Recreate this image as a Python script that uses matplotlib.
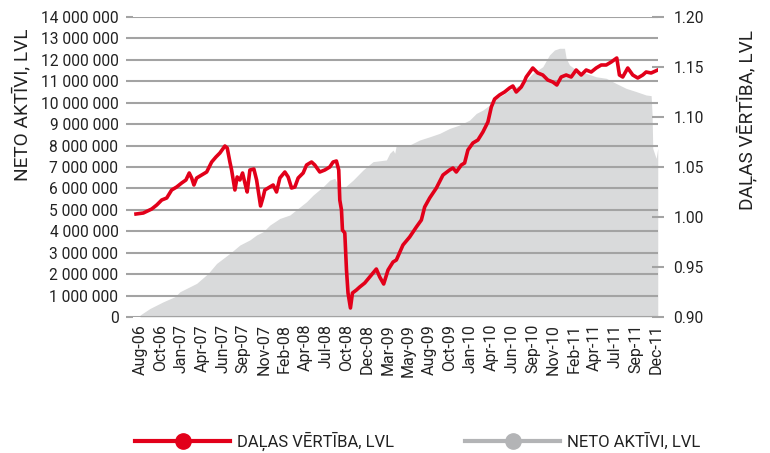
import matplotlib
matplotlib.use("Agg")
import matplotlib.pyplot as plt
from matplotlib.lines import Line2D
from matplotlib.ticker import FuncFormatter
import numpy as np

plt.rcParams['font.family'] = ['Roboto', 'DejaVu Sans']

# x positions are in months since Aug-2006
tick_labels = ["Aug-06", "Oct-06", "Jan-07", "Apr-07", "Jun-07", "Sep-07", "Nov-07",
               "Feb-08", "Apr-08", "Jul-08", "Oct-08", "Dec-08", "Mar-09", "May-09",
               "Aug-09", "Oct-09", "Jan-10", "Apr-10", "Jun-10", "Sep-10", "Nov-10",
               "Feb-11", "Apr-11", "Jul-11", "Sep-11", "Dec-11"]

# Unit value (right axis, LVL)
unit_month = [-0.50, 0.41, 1.45, 2.07, 2.69, 3.31, 3.92, 4.54, 5.16, 5.69, 6.10, 6.40, 6.68,
              7.02, 7.64, 8.26, 8.88, 9.41, 9.90, 10.52, 10.81, 11.14, 11.35, 11.76, 12.04,
              12.38, 12.71, 13.00, 13.28, 13.62, 14.11, 14.45, 14.94, 15.26, 15.47, 16.09,
              16.50, 16.92, 17.33, 17.95, 18.36, 18.78, 19.19, 19.60, 20.22, 20.64, 21.26,
              21.66, 22.28, 22.90, 23.52, 23.93, 24.34, 24.63, 24.76, 24.97, 25.09, 25.38,
              25.59, 25.78, 26.08, 26.33, 26.82, 27.23, 27.85, 28.47, 28.88, 29.29, 29.71,
              30.20, 30.74, 31.36, 31.77, 32.59, 33.42, 34.25, 34.87, 35.28, 35.90, 36.73,
              37.55, 38.37, 38.78, 39.20, 39.82, 40.23, 40.64, 41.26, 41.88, 42.50, 43.12,
              43.54, 43.95, 44.56, 45.18, 45.80, 46.21, 46.63, 47.25, 47.66, 47.87, 48.68,
              49.30, 49.92, 50.54, 51.16, 51.66, 52.20, 52.82, 53.44, 54.06, 54.68, 55.30,
              55.92, 56.54, 57.16, 57.78, 58.40, 59.09, 59.42, 59.83, 60.45, 61.07, 61.69,
              62.31, 62.73, 63.35, 64.17]
unit_value = [1.003, 1.004, 1.008, 1.012, 1.017, 1.019, 1.027, 1.030, 1.034, 1.037, 1.044, 1.039, 1.032,
              1.039, 1.042, 1.045, 1.055, 1.060, 1.064, 1.071, 1.069, 1.055, 1.047, 1.027, 1.040,
              1.037, 1.044, 1.034, 1.025, 1.047, 1.048, 1.037, 1.011, 1.020, 1.027, 1.030,
              1.032, 1.025, 1.039, 1.045, 1.040, 1.029, 1.030, 1.039, 1.044, 1.052, 1.055,
              1.052, 1.045, 1.047, 1.050, 1.055, 1.056, 1.047, 1.017, 1.007, 0.987, 0.984,
              0.947, 0.924, 0.909, 0.924, 0.927, 0.930, 0.934, 0.940, 0.944, 0.948, 0.940,
              0.933, 0.947, 0.955, 0.957, 0.972, 0.980, 0.990, 0.997, 1.010, 1.019, 1.029,
              1.042, 1.047, 1.049, 1.045, 1.052, 1.054, 1.067, 1.074, 1.077, 1.085, 1.095,
              1.110, 1.118, 1.122, 1.125, 1.129, 1.131, 1.125, 1.130, 1.136, 1.140, 1.149,
              1.144, 1.142, 1.137, 1.135, 1.132, 1.140, 1.142, 1.140, 1.147, 1.142, 1.147,
              1.145, 1.149, 1.152, 1.152, 1.155, 1.159, 1.142, 1.140, 1.149, 1.142, 1.139,
              1.142, 1.145, 1.144, 1.147]

# Net assets (left axis, LVL)
assets_month = [0.00, 1.24, 2.88, 4.33, 4.95, 7.02, 8.46, 9.49, 11.14, 12.38, 13.62, 14.45,
                15.26, 16.09, 17.33, 18.57, 19.60, 20.64, 21.45, 22.69, 23.52, 24.14, 24.76,
                25.38, 26.41, 27.64, 28.88, 30.54, 30.95, 31.36, 31.57, 31.77, 33.42, 34.66,
                35.90, 37.14, 38.37, 39.61, 40.85, 41.68, 42.50, 43.33, 44.16, 44.98, 45.80,
                46.63, 47.45, 48.68, 49.92, 50.75, 51.37, 51.99, 52.61, 52.82, 53.23, 54.06,
                55.30, 56.54, 57.78, 59.01, 60.25, 61.49, 62.73, 63.35, 63.47, 63.55, 63.97,
                64.17]
assets_value = [90000, 400000, 710000, 950000, 1180000, 1570000, 2040000, 2500000, 2970000,
                3360000, 3600000, 3830000, 3980000, 4290000, 4600000, 4760000, 5070000,
                5380000, 5690000, 6080000, 6390000, 6470000, 6000000, 6050000, 6390000,
                6860000, 7250000, 7330000, 7640000, 7790000, 7640000, 8030000, 8030000,
                8260000, 8410000, 8570000, 8800000, 8960000, 9190000, 9500000, 9660000,
                9890000, 10200000, 10360000, 10590000, 10750000, 10900000, 11370000,
                11680000, 12230000, 12460000, 12540000, 12540000, 12070000, 11760000,
                11530000, 11370000, 11210000, 11140000, 10900000, 10670000, 10520000,
                10360000, 10330000, 9430000, 7870000, 7400000, 7870000]

left_ticks = list(range(0, 14000001, 1000000))
right_ticks = [0.90, 0.95, 1.00, 1.05, 1.10, 1.15, 1.20]

RED = "#e2001a"
AREA = "#d9dadb"
GRID = "#a3a3a3"
TXT = "#222222"

fig = plt.figure(figsize=(7.7, 4.53), dpi=100)
ax = fig.add_axes([133/770, 1-317/453, 525/770, 300/453])
ax2 = ax.twinx()

ax.fill_between(assets_month, assets_value, 0, color=AREA, linewidth=0, zorder=1)
ax.set_ylim(0, 14000000)
ax.set_yticks(left_ticks)
ax.yaxis.set_major_formatter(FuncFormatter(lambda v, p: f"{int(v):,}".replace(",", " ")))
ax.grid(axis='y', color=GRID, linewidth=1.5)
ax.set_axisbelow(False)
ax.tick_params(axis='y', length=5, width=1.5, color=GRID, labelsize=11.2, labelcolor=TXT, pad=5.5)

n = len(tick_labels)
ax.set_xticks(np.linspace(0, 64, n))
ax.set_xticklabels(tick_labels, rotation=90, fontsize=11.5, color=TXT)
ax.tick_params(axis='x', length=0, pad=5)
ax.set_xlim(-0.87, 64.2)

ax2.plot(unit_month, unit_value, color=RED, linewidth=2.6, solid_joinstyle='round', zorder=3)
ax2.set_ylim(0.90, 1.20)
ax2.set_yticks(right_ticks)
ax2.yaxis.set_major_formatter(FuncFormatter(lambda v, p: f"{v:.2f}"))
ax2.tick_params(axis='y', direction='inout', length=8, width=1.5, color=GRID,
                labelsize=11.2, labelcolor=TXT, pad=7)

for a in (ax, ax2):
    for s in a.spines.values():
        s.set_visible(False)

fig.text(22/770, 1-105/453, "NETO AKTĪVI, LVL", rotation=90, ha='center', va='center',
         fontsize=13.7, color=TXT)
fig.text(747/770, 1-120/453, "DAĻAS VĒRTĪBA, LVL", rotation=90, ha='center', va='center',
         fontsize=13.7, color=TXT)

handles = [Line2D([], [], color=RED, lw=3, marker='o', markersize=11),
           Line2D([], [], color="#b3b4b6", lw=3, marker='o', markersize=11)]
fig.legend(handles, ["DAĻAS VĒRTĪBA, LVL", "NETO AKTĪVI, LVL"], ncol=2, frameon=False,
           loc='center left', bbox_to_anchor=(135/770, 1-441/453), fontsize=12,
           handlelength=5.7, handletextpad=0.4, columnspacing=4.3, numpoints=1,
           labelcolor=TXT, borderpad=0, borderaxespad=0)

fig.savefig("out.png", dpi=100)
